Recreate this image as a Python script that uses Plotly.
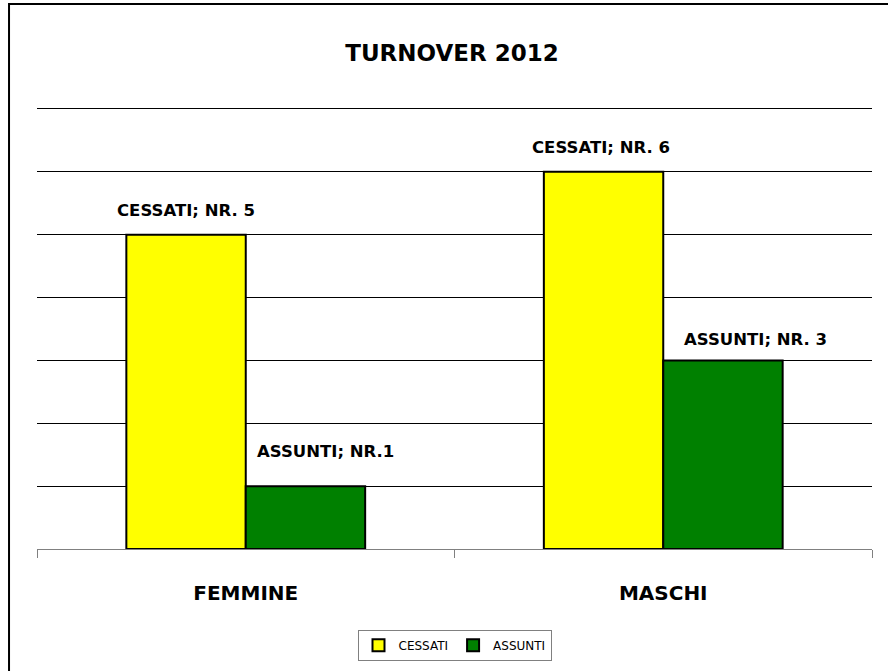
import plotly.graph_objects as go

categories = ["FEMMINE", "MASCHI"]
cessati = [5, 6]
assunti = [1, 3]
cessati_labels = ["CESSATI; NR. 5", "CESSATI; NR. 6"]
assunti_labels = ["ASSUNTI; NR.1", "ASSUNTI; NR. 3"]

FONT = "DejaVu Sans"

fig = go.Figure()
fig.add_trace(go.Bar(
    x=categories, y=cessati, name="CESSATI",
    marker=dict(color="#FFFF00", line=dict(color="#000000", width=2)),
))
fig.add_trace(go.Bar(
    x=categories, y=assunti, name="ASSUNTI",
    marker=dict(color="#008000", line=dict(color="#000000", width=2)),
))

# data labels, placed like the original (some were moved by hand there)
label_font = dict(family=FONT, size=16.5, color="#000000")
shifts_c = [(-60, 24), (-62, 24)]
shifts_a = [(80, 35), (92, 21)]
for cat, val, txt, (dx, dy) in zip(categories, cessati, cessati_labels, shifts_c):
    fig.add_annotation(x=cat, y=val, text="<b>%s</b>" % txt, showarrow=False,
                       xshift=dx, yshift=dy, font=label_font)
for cat, val, txt, (dx, dy) in zip(categories, assunti, assunti_labels, shifts_a):
    fig.add_annotation(x=cat, y=val, text="<b>%s</b>" % txt, showarrow=False,
                       xshift=dx, yshift=dy, font=label_font)

# outer chart border
fig.add_shape(type="rect", xref="paper", yref="paper",
              x0=-0.0335, x1=1.03, y0=-0.3, y1=1.233,
              line=dict(color="#000000", width=2), layer="below")

fig.update_layout(
    width=888, height=671,
    margin=dict(l=37, r=16, t=107, b=121),
    paper_bgcolor="white", plot_bgcolor="white",
    font=dict(family=FONT, color="#000000"),
    title=dict(text="<b>TURNOVER 2012</b>", xref="paper", x=0.497, xanchor="center",
               y=0.921, yanchor="middle", font=dict(family=FONT, size=23)),
    barmode="group", bargap=0.428, bargroupgap=0,
    showlegend=True,
    legend=dict(orientation="h", x=0.5, xanchor="center", y=-0.18, yanchor="top",
                bordercolor="#808080", borderwidth=1, font=dict(family=FONT, size=12),
                itemwidth=30, traceorder="normal"),
    xaxis=dict(showline=True, linecolor="#808080", linewidth=1,
               ticks="outside", ticklen=8, tickcolor="#808080",
               tickson="boundaries", showgrid=False,
               tickfont=dict(family=FONT, size=20, color="#000000"),
               ticklabelstandoff=26,
               tickvals=categories, ticktext=["<b>%s</b>" % c for c in categories]),
    yaxis=dict(range=[0, 7.03], dtick=1, showgrid=True, gridcolor="#000000", gridwidth=1,
               showticklabels=False, zeroline=False, showline=False),
)

fig.write_html("out.html", config={"displayModeBar": False},
               post_script="document.body.style.margin='0';")
